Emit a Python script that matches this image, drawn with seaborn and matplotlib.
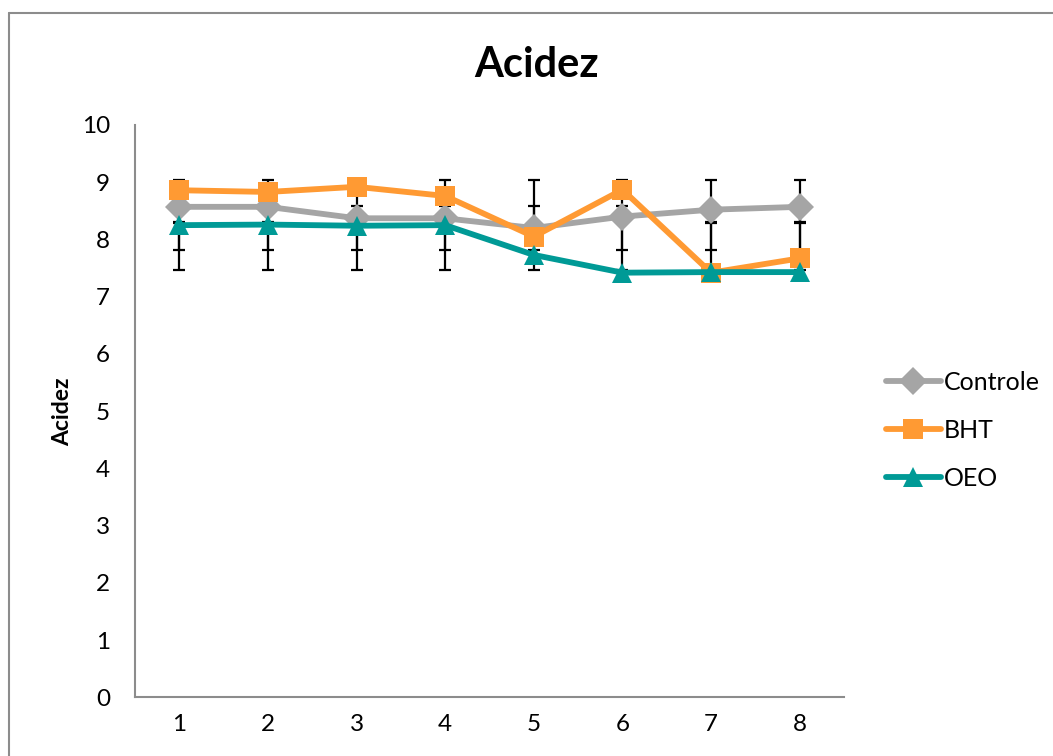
import numpy as np
import pandas as pd
import matplotlib
matplotlib.use("Agg")
import matplotlib.pyplot as plt
import seaborn as sns
from matplotlib.lines import Line2D

# values
days = [1, 2, 3, 4, 5, 6, 7, 8]
controle = [8.57, 8.57, 8.37, 8.37, 8.20, 8.40, 8.52, 8.57]
bht = [8.86, 8.83, 8.92, 8.76, 8.05, 8.87, 7.42, 7.67]
oeo = [8.25, 8.26, 8.24, 8.25, 7.73, 7.42, 7.43, 7.43]
series_names = ["Controle", "BHT", "OEO"]

colors = {"Controle": "#A5A5A5", "BHT": "#FF9A33", "OEO": "#009A96"}
markers = {"Controle": "D", "BHT": "s", "OEO": "^"}

df = pd.DataFrame({"dia": days, "Controle": controle, "BHT": bht, "OEO": oeo})
long = df.melt(id_vars="dia", var_name="serie", value_name="acidez")
long["pos"] = long["dia"].map({d: i for i, d in enumerate(days)})

sns.set_style("white")
plt.rcParams["font.family"] = ["Lato", "DejaVu Sans"]
plt.rcParams["text.color"] = "black"
plt.rcParams["axes.labelcolor"] = "black"
plt.rcParams["xtick.color"] = "black"
plt.rcParams["ytick.color"] = "black"

fig = plt.figure(figsize=(10.53, 7.56), dpi=100)
ax = fig.add_axes([0.1282, 0.0774, 0.6733, 0.7573])

# Excel-style "standard deviation" error bars: mean of series +/- 1 SD
for name in series_names:
    vals = np.array(df[name])
    m = vals.mean()
    sd = vals.std(ddof=1)
    ax.errorbar(range(len(days)), [m] * len(days), yerr=sd, fmt="none",
                ecolor="black", elinewidth=1.6, capsize=4.5, capthick=1.6,
                zorder=1)

sns.lineplot(data=long, x="pos", y="acidez", hue="serie", style="serie",
             hue_order=series_names, style_order=series_names,
             palette=colors, markers=markers, dashes=False,
             linewidth=4.2, markersize=14, markeredgewidth=0,
             ax=ax, legend=False, zorder=3)

ax.set_xlim(-0.5, len(days) - 0.5)
ax.set_ylim(0, 10)
ax.set_yticks(range(0, 11))
ax.set_xticks(range(len(days)))
ax.set_xticklabels([str(d) for d in days])
ax.tick_params(axis="both", labelsize=17.5, length=0, pad=12)
ax.tick_params(axis="y", pad=18)
ax.set_xlabel("")
ax.set_ylabel("Acidez", fontsize=16.5, fontweight="bold", labelpad=6)
for s in ["top", "right"]:
    ax.spines[s].set_visible(False)
for s in ["left", "bottom"]:
    ax.spines[s].set_color("#8C8C8C")
    ax.spines[s].set_linewidth(1.5)

fig.text(0.51, 0.914, "Acidez", fontsize=30, fontweight="bold",
         ha="center", va="center")

handles = [Line2D([], [], color=colors[n], marker=markers[n], linewidth=4.2,
                  markersize=14, markeredgewidth=0) for n in series_names]
fig.legend(handles, series_names, loc="center left",
           bbox_to_anchor=(0.82, 0.431), frameon=False, fontsize=18,
           handlelength=2.2, handletextpad=0.1, labelspacing=1.0)

# chart-area border (top and left visible in the reference)
fig.add_artist(Line2D([0.0085, 1.0], [0.983, 0.983], transform=fig.transFigure,
                      color="#8C8C8C", linewidth=1.5))
fig.add_artist(Line2D([0.0085, 0.0085], [0.0, 0.983], transform=fig.transFigure,
                      color="#8C8C8C", linewidth=1.5))

fig.savefig("out.png", dpi=100)
